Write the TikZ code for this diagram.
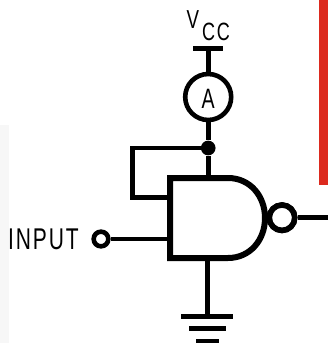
\documentclass[tikz,border=0pt]{standalone}
\usepackage{fontspec}
\setmainfont{Liberation Sans}[LetterSpace=9]
\definecolor{barred}{HTML}{DC2A1E}
\tikzset{
  x=1pt,y=-1pt,
  wire/.style={draw=black,line width=4.8pt},
  body/.style={draw=black,line width=6pt,line join=miter},
  bubble/.style={circle,draw=black,fill=white,inner sep=0pt,minimum size=#1},
  lbl/.style={inner sep=0pt,anchor=base west,text=black}
}
\begin{document}
\begin{tikzpicture}
\useasboundingbox (0,0) rectangle (328,343);
\fill[white] (0,0) rectangle (328,343);
\fill[black!3] (0,125) rectangle (9,343);
\fill[barred] (319,0) rectangle (328,185);
% labels
\node[lbl,xscale=.72] (vv) at (186.5,28) {\fontsize{26}{26}\selectfont V};
\node[lbl,xscale=.72] (vc) at (202,40.5) {\fontsize{25}{25}\selectfont CC};
\node[lbl,xscale=.7] (inp) at (8,249) {\fontsize{30}{30}\selectfont INPUT};
% coordinates
\coordinate (vtop) at (208.2,48.8);
\coordinate (vl) at (193,48.8);
\coordinate (vr) at (223,48.8);
\node[bubble=46pt,line width=4.6pt] (amm) at (208.2,97) {};
\node[inner sep=0pt,font=\fontsize{28}{28}\selectfont,xscale=.7] (aa) at (208.2,98.5) {A};
\node[circle,fill=black,inner sep=0pt,minimum size=14.7pt] (jn) at (208.2,148) {};
\coordinate (fb1) at (132.5,148);
\coordinate (fb2) at (132.5,197.5);
\coordinate (gin1) at (170,197.5);
\coordinate (gin2) at (170,239);
\coordinate (gtop) at (208.2,178);
\coordinate (gbot) at (207.5,258);
\coordinate (gnd1) at (207.5,316.7);
\coordinate (g1l) at (181,316.7);
\coordinate (g1r) at (233,316.7);
\coordinate (g2l) at (189,328.7);
\coordinate (g2r) at (226,328.7);
\coordinate (g3l) at (196,341);
\coordinate (g3r) at (219,341);
\coordinate (outp) at (328,217.7);
\node[bubble=25.4pt,line width=5.6pt] (ob) at (282,217.7) {};
\node[bubble=14.7pt,line width=4.6pt] (ib) at (101,239) {};
% wires
\draw[wire] (vl) -- (vr);
\draw[wire] (vtop) -- (amm);
\draw[wire] (amm) -- (jn);
\draw[wire] (jn) -- (gtop);
\draw[wire,line join=miter] (jn.center) -- (fb1) -- (fb2) -- (gin1);
\draw[wire] (ib) -- (gin2);
\draw[wire] (gbot) -- (gnd1);
\draw[wire] (g1l) -- (g1r);
\draw[wire] (g2l) -- (g2r);
\draw[wire,line width=5pt] (g3l) -- (g3r);
\draw[wire] (ob) -- (outp);
% gate
\draw[body,fill=white] (170,178) -- (228,178) .. controls (250,178) and (265,196) .. (265,218) .. controls (265,240) and (250,258) .. (228,258) -- (170,258) -- cycle;
\node[bubble=25.4pt,line width=5.6pt] at (ob) {};
\end{tikzpicture}
\end{document}
